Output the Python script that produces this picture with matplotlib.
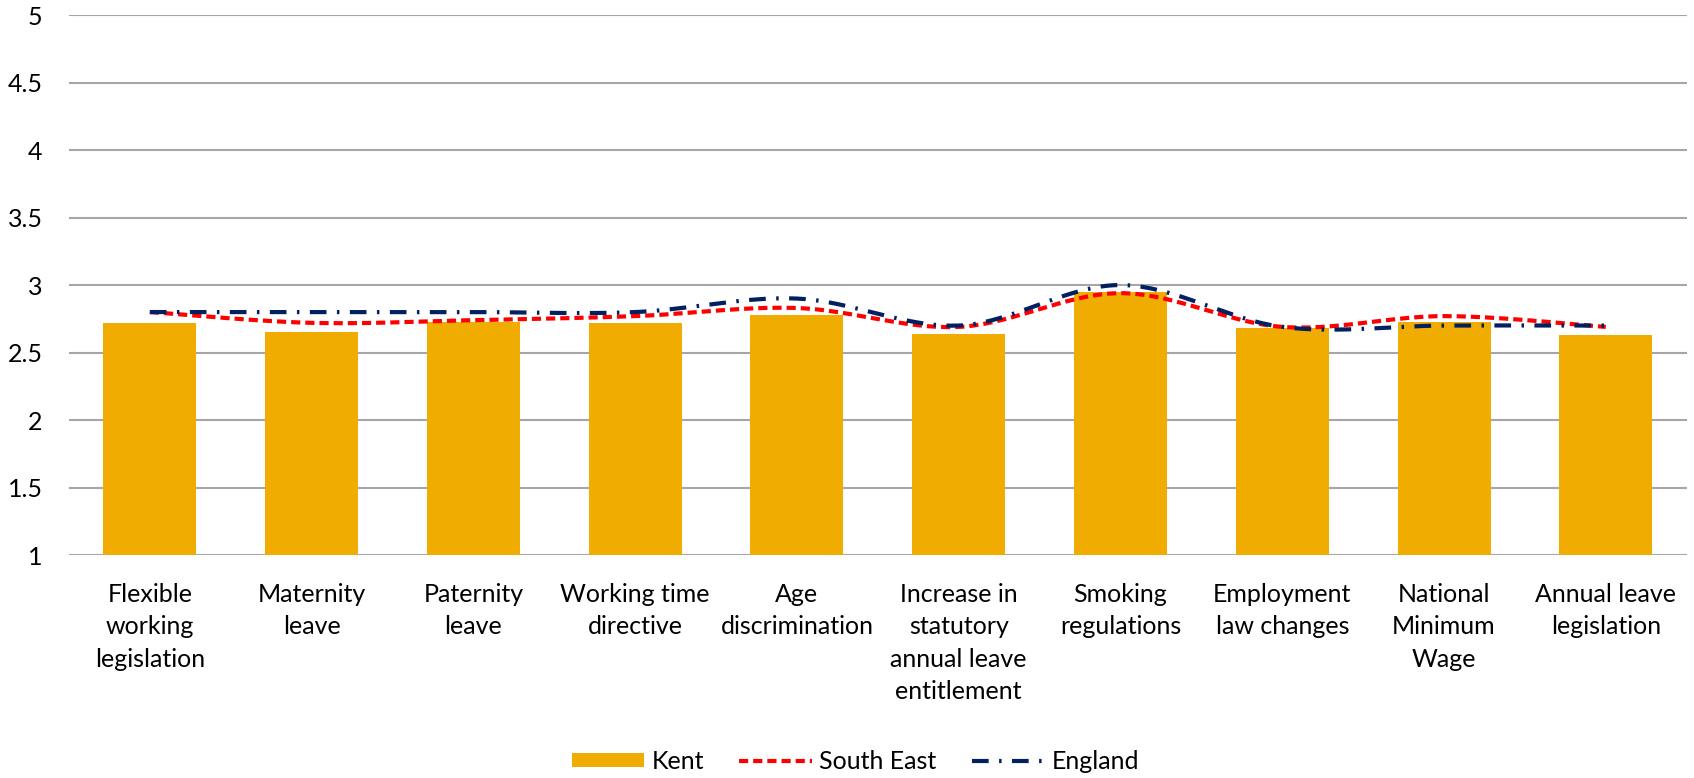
import numpy as np
import matplotlib
matplotlib.use("Agg")
import matplotlib.pyplot as plt

plt.rcParams['font.family'] = ['Lato', 'DejaVu Sans']

categories = ["Flexible\nworking\nlegislation", "Maternity\nleave", "Paternity\nleave",
              "Working time\ndirective", "Age\ndiscrimination",
              "Increase in\nstatutory\nannual leave\nentitlement", "Smoking\nregulations",
              "Employment\nlaw changes", "National\nMinimum\nWage", "Annual leave\nlegislation"]
kent = [2.72, 2.65, 2.73, 2.72, 2.78, 2.64, 2.95, 2.68, 2.73, 2.63]
south_east = [2.80, 2.72, 2.74, 2.77, 2.83, 2.69, 2.94, 2.69, 2.77, 2.69]
england = [2.80, 2.80, 2.80, 2.80, 2.90, 2.70, 3.00, 2.69, 2.70, 2.70]
yticks = [1, 1.5, 2, 2.5, 3, 3.5, 4, 4.5, 5]


def smooth(xs, ys, n=40):
    # Catmull-Rom style curve through every point, like Excel's smoothed line
    xs = np.asarray(xs, float)
    ys = np.asarray(ys, float)
    px = np.concatenate([[xs[0]], xs, [xs[-1]]])
    py = np.concatenate([[ys[0]], ys, [ys[-1]]])
    outx, outy = [], []
    t = np.linspace(0, 1, n)
    for i in range(1, len(px) - 2):
        x0, x1, x2, x3 = px[i - 1:i + 3]
        y0, y1, y2, y3 = py[i - 1:i + 3]
        # bezier control points
        cx1, cy1 = x1 + (x2 - x0) / 6, y1 + (y2 - y0) / 6
        cx2, cy2 = x2 - (x3 - x1) / 6, y2 - (y3 - y1) / 6
        bx = (1 - t)**3 * x1 + 3 * (1 - t)**2 * t * cx1 + 3 * (1 - t) * t**2 * cx2 + t**3 * x2
        by = (1 - t)**3 * y1 + 3 * (1 - t)**2 * t * cy1 + 3 * (1 - t) * t**2 * cy2 + t**3 * y2
        outx.extend(bx)
        outy.extend(by)
    return np.array(outx), np.array(outy)


fig = plt.figure(figsize=(16.94, 7.78), dpi=100)
ax = fig.add_axes([0.0407, 0.2866, 0.955, 0.694])

x = np.arange(len(categories))
bars = ax.bar(x, [k - 1 for k in kent], bottom=1, width=0.575, color="#F0AC00", zorder=2)

sx, sy = smooth(x, south_east)
se_line, = ax.plot(sx, sy, color="#FF0000", lw=3, linestyle=(0, (2.2, 1.2)), zorder=3)
ex, ey = smooth(x, england)
en_line, = ax.plot(ex, ey, color="#002060", lw=3, linestyle=(0, (4, 2.5, 0.6, 2.5)), zorder=3)

ax.set_xlim(-0.5, len(categories) - 0.5)
ax.set_ylim(1, 5)
ax.set_yticks(yticks)
ax.set_yticklabels([f"{v:g}" for v in yticks], fontsize=18)
ax.set_xticks(x)
ax.set_xticklabels(categories, fontsize=18, linespacing=1.5, va="top")
ax.tick_params(axis="both", length=0, colors="#000000")
ax.tick_params(axis="x", pad=20)
ax.tick_params(axis="y", pad=19)
ax.grid(axis="y", color="#A6A6A6", lw=1.5, zorder=0)
for s in ax.spines.values():
    s.set_visible(False)

fig.legend([bars, se_line, en_line], ["Kent", "South East", "England"],
           loc="lower center", bbox_to_anchor=(0.505, -0.022), ncol=3, frameon=False,
           fontsize=18, handlelength=2.9, handleheight=0.5, columnspacing=1.4,
           handletextpad=0.3)

fig.savefig("out.png", dpi=100)
